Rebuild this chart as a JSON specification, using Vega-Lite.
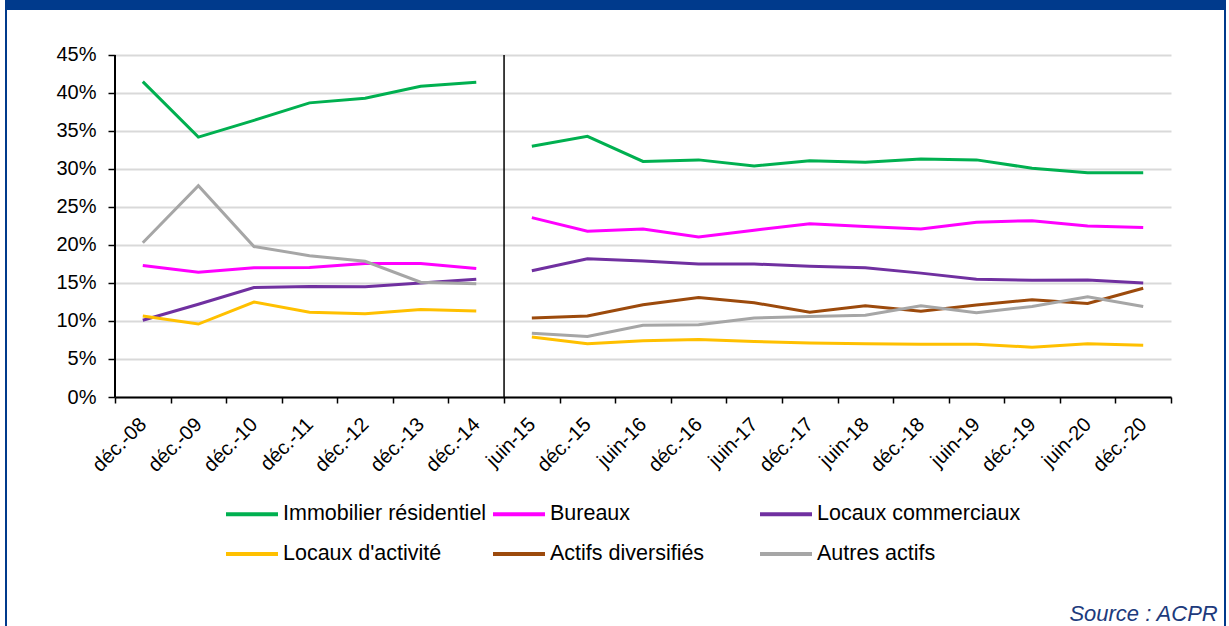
{
  "$schema": "https://vega.github.io/schema/vega-lite/v6.json",
  "padding": {"left": 5, "top": 0, "right": 3, "bottom": 0},
  "background": "white",
  "config": {
    "font": "Liberation Sans",
    "concat": {"spacing": 0},
    "view": {"stroke": null}
  },
  "bounds": "flush",
  "spacing": 0,
  "vconcat": [
    {
      "width": 1221,
      "height": 10,
      "view": {"fill": "#003a8c", "stroke": null},
      "data": {"values": []},
      "mark": "rect",
      "encoding": {}
    },
    {
      "bounds": "flush",
      "spacing": 0,
      "hconcat": [
        {
          "width": 2,
          "height": 616,
          "view": {"fill": "#003a8c", "stroke": null},
          "data": {"values": []},
          "mark": "rect",
          "encoding": {}
        },
        {
          "width": 108,
          "height": 1,
          "view": {"stroke": null},
          "data": {"values": []},
          "mark": "rect",
          "encoding": {}
        },
        {
          "width": 1056,
          "height": 387,
          "title": {
            "text": "Source : ACPR",
            "orient": "bottom",
            "anchor": "end",
            "fontSize": 22,
            "fontStyle": "italic",
            "fontWeight": "normal",
            "color": "#203a7c",
            "offset": 129,
            "dx": 46
          },
          "data": {
            "values": [
              {"c": "déc.-08", "s": "Immobilier résidentiel", "p": 1, "v": 0.415},
              {"c": "déc.-09", "s": "Immobilier résidentiel", "p": 1, "v": 0.342},
              {"c": "déc.-10", "s": "Immobilier résidentiel", "p": 1, "v": 0.364},
              {"c": "déc.-11", "s": "Immobilier résidentiel", "p": 1, "v": 0.387},
              {"c": "déc.-12", "s": "Immobilier résidentiel", "p": 1, "v": 0.393},
              {"c": "déc.-13", "s": "Immobilier résidentiel", "p": 1, "v": 0.409},
              {"c": "déc.-14", "s": "Immobilier résidentiel", "p": 1, "v": 0.414},
              {"c": "juin-15", "s": "Immobilier résidentiel", "p": 2, "v": 0.330},
              {"c": "déc.-15", "s": "Immobilier résidentiel", "p": 2, "v": 0.343},
              {"c": "juin-16", "s": "Immobilier résidentiel", "p": 2, "v": 0.310},
              {"c": "déc.-16", "s": "Immobilier résidentiel", "p": 2, "v": 0.312},
              {"c": "juin-17", "s": "Immobilier résidentiel", "p": 2, "v": 0.304},
              {"c": "déc.-17", "s": "Immobilier résidentiel", "p": 2, "v": 0.311},
              {"c": "juin-18", "s": "Immobilier résidentiel", "p": 2, "v": 0.309},
              {"c": "déc.-18", "s": "Immobilier résidentiel", "p": 2, "v": 0.313},
              {"c": "juin-19", "s": "Immobilier résidentiel", "p": 2, "v": 0.312},
              {"c": "déc.-19", "s": "Immobilier résidentiel", "p": 2, "v": 0.301},
              {"c": "juin-20", "s": "Immobilier résidentiel", "p": 2, "v": 0.295},
              {"c": "déc.-20", "s": "Immobilier résidentiel", "p": 2, "v": 0.295},

              {"c": "déc.-08", "s": "Bureaux", "p": 1, "v": 0.173},
              {"c": "déc.-09", "s": "Bureaux", "p": 1, "v": 0.164},
              {"c": "déc.-10", "s": "Bureaux", "p": 1, "v": 0.170},
              {"c": "déc.-11", "s": "Bureaux", "p": 1, "v": 0.1705},
              {"c": "déc.-12", "s": "Bureaux", "p": 1, "v": 0.1755},
              {"c": "déc.-13", "s": "Bureaux", "p": 1, "v": 0.1755},
              {"c": "déc.-14", "s": "Bureaux", "p": 1, "v": 0.169},
              {"c": "juin-15", "s": "Bureaux", "p": 2, "v": 0.236},
              {"c": "déc.-15", "s": "Bureaux", "p": 2, "v": 0.218},
              {"c": "juin-16", "s": "Bureaux", "p": 2, "v": 0.221},
              {"c": "déc.-16", "s": "Bureaux", "p": 2, "v": 0.2105},
              {"c": "juin-17", "s": "Bureaux", "p": 2, "v": 0.2195},
              {"c": "déc.-17", "s": "Bureaux", "p": 2, "v": 0.228},
              {"c": "juin-18", "s": "Bureaux", "p": 2, "v": 0.2245},
              {"c": "déc.-18", "s": "Bureaux", "p": 2, "v": 0.221},
              {"c": "juin-19", "s": "Bureaux", "p": 2, "v": 0.230},
              {"c": "déc.-19", "s": "Bureaux", "p": 2, "v": 0.232},
              {"c": "juin-20", "s": "Bureaux", "p": 2, "v": 0.225},
              {"c": "déc.-20", "s": "Bureaux", "p": 2, "v": 0.223},

              {"c": "déc.-08", "s": "Locaux commerciaux", "p": 1, "v": 0.101},
              {"c": "déc.-09", "s": "Locaux commerciaux", "p": 1, "v": 0.122},
              {"c": "déc.-10", "s": "Locaux commerciaux", "p": 1, "v": 0.144},
              {"c": "déc.-11", "s": "Locaux commerciaux", "p": 1, "v": 0.1455},
              {"c": "déc.-12", "s": "Locaux commerciaux", "p": 1, "v": 0.145},
              {"c": "déc.-13", "s": "Locaux commerciaux", "p": 1, "v": 0.150},
              {"c": "déc.-14", "s": "Locaux commerciaux", "p": 1, "v": 0.155},
              {"c": "juin-15", "s": "Locaux commerciaux", "p": 2, "v": 0.166},
              {"c": "déc.-15", "s": "Locaux commerciaux", "p": 2, "v": 0.182},
              {"c": "juin-16", "s": "Locaux commerciaux", "p": 2, "v": 0.179},
              {"c": "déc.-16", "s": "Locaux commerciaux", "p": 2, "v": 0.175},
              {"c": "juin-17", "s": "Locaux commerciaux", "p": 2, "v": 0.175},
              {"c": "déc.-17", "s": "Locaux commerciaux", "p": 2, "v": 0.172},
              {"c": "juin-18", "s": "Locaux commerciaux", "p": 2, "v": 0.170},
              {"c": "déc.-18", "s": "Locaux commerciaux", "p": 2, "v": 0.163},
              {"c": "juin-19", "s": "Locaux commerciaux", "p": 2, "v": 0.155},
              {"c": "déc.-19", "s": "Locaux commerciaux", "p": 2, "v": 0.1535},
              {"c": "juin-20", "s": "Locaux commerciaux", "p": 2, "v": 0.154},
              {"c": "déc.-20", "s": "Locaux commerciaux", "p": 2, "v": 0.150},

              {"c": "déc.-08", "s": "Locaux d'activité", "p": 1, "v": 0.1065},
              {"c": "déc.-09", "s": "Locaux d'activité", "p": 1, "v": 0.096},
              {"c": "déc.-10", "s": "Locaux d'activité", "p": 1, "v": 0.125},
              {"c": "déc.-11", "s": "Locaux d'activité", "p": 1, "v": 0.1115},
              {"c": "déc.-12", "s": "Locaux d'activité", "p": 1, "v": 0.1095},
              {"c": "déc.-13", "s": "Locaux d'activité", "p": 1, "v": 0.115},
              {"c": "déc.-14", "s": "Locaux d'activité", "p": 1, "v": 0.113},
              {"c": "juin-15", "s": "Locaux d'activité", "p": 2, "v": 0.079},
              {"c": "déc.-15", "s": "Locaux d'activité", "p": 2, "v": 0.070},
              {"c": "juin-16", "s": "Locaux d'activité", "p": 2, "v": 0.074},
              {"c": "déc.-16", "s": "Locaux d'activité", "p": 2, "v": 0.0755},
              {"c": "juin-17", "s": "Locaux d'activité", "p": 2, "v": 0.073},
              {"c": "déc.-17", "s": "Locaux d'activité", "p": 2, "v": 0.071},
              {"c": "juin-18", "s": "Locaux d'activité", "p": 2, "v": 0.070},
              {"c": "déc.-18", "s": "Locaux d'activité", "p": 2, "v": 0.0695},
              {"c": "juin-19", "s": "Locaux d'activité", "p": 2, "v": 0.0695},
              {"c": "déc.-19", "s": "Locaux d'activité", "p": 2, "v": 0.0655},
              {"c": "juin-20", "s": "Locaux d'activité", "p": 2, "v": 0.070},
              {"c": "déc.-20", "s": "Locaux d'activité", "p": 2, "v": 0.068},

              {"c": "juin-15", "s": "Actifs diversifiés", "p": 2, "v": 0.104},
              {"c": "déc.-15", "s": "Actifs diversifiés", "p": 2, "v": 0.1065},
              {"c": "juin-16", "s": "Actifs diversifiés", "p": 2, "v": 0.1215},
              {"c": "déc.-16", "s": "Actifs diversifiés", "p": 2, "v": 0.131},
              {"c": "juin-17", "s": "Actifs diversifiés", "p": 2, "v": 0.124},
              {"c": "déc.-17", "s": "Actifs diversifiés", "p": 2, "v": 0.1115},
              {"c": "juin-18", "s": "Actifs diversifiés", "p": 2, "v": 0.120},
              {"c": "déc.-18", "s": "Actifs diversifiés", "p": 2, "v": 0.113},
              {"c": "juin-19", "s": "Actifs diversifiés", "p": 2, "v": 0.121},
              {"c": "déc.-19", "s": "Actifs diversifiés", "p": 2, "v": 0.128},
              {"c": "juin-20", "s": "Actifs diversifiés", "p": 2, "v": 0.123},
              {"c": "déc.-20", "s": "Actifs diversifiés", "p": 2, "v": 0.143},

              {"c": "déc.-08", "s": "Autres actifs", "p": 1, "v": 0.203},
              {"c": "déc.-09", "s": "Autres actifs", "p": 1, "v": 0.278},
              {"c": "déc.-10", "s": "Autres actifs", "p": 1, "v": 0.198},
              {"c": "déc.-11", "s": "Autres actifs", "p": 1, "v": 0.186},
              {"c": "déc.-12", "s": "Autres actifs", "p": 1, "v": 0.1785},
              {"c": "déc.-13", "s": "Autres actifs", "p": 1, "v": 0.151},
              {"c": "déc.-14", "s": "Autres actifs", "p": 1, "v": 0.149},
              {"c": "juin-15", "s": "Autres actifs", "p": 2, "v": 0.084},
              {"c": "déc.-15", "s": "Autres actifs", "p": 2, "v": 0.0795},
              {"c": "juin-16", "s": "Autres actifs", "p": 2, "v": 0.0945},
              {"c": "déc.-16", "s": "Autres actifs", "p": 2, "v": 0.095},
              {"c": "juin-17", "s": "Autres actifs", "p": 2, "v": 0.104},
              {"c": "déc.-17", "s": "Autres actifs", "p": 2, "v": 0.106},
              {"c": "juin-18", "s": "Autres actifs", "p": 2, "v": 0.1075},
              {"c": "déc.-18", "s": "Autres actifs", "p": 2, "v": 0.120},
              {"c": "juin-19", "s": "Autres actifs", "p": 2, "v": 0.111},
              {"c": "déc.-19", "s": "Autres actifs", "p": 2, "v": 0.119},
              {"c": "juin-20", "s": "Autres actifs", "p": 2, "v": 0.132},
              {"c": "déc.-20", "s": "Autres actifs", "p": 2, "v": 0.119}
            ]
          },
          "layer": [
            {
              "mark": {"type": "line", "strokeWidth": 3},
              "encoding": {
                "x": {
                  "field": "c",
                  "type": "ordinal",
                  "scale": {
                    "type": "band",
                    "domain": ["déc.-08","déc.-09","déc.-10","déc.-11","déc.-12","déc.-13","déc.-14","juin-15","déc.-15","juin-16","déc.-16","juin-17","déc.-17","juin-18","déc.-18","juin-19","déc.-19","juin-20","déc.-20"],
                    "paddingInner": 0,
                    "paddingOuter": 0
                  },
                  "axis": {
                    "title": null,
                    "labelAngle": -45,
                    "labelAlign": "right",
                    "labelBaseline": "middle",
                    "labelFontSize": 20,
                    "labelColor": "#000000",
                    "labelPadding": 18,
                    "tickBand": "extent",
                    "tickColor": "#000000",
                    "tickSize": 6,
                    "tickWidth": 1.5,
                    "domainColor": "#000000",
                    "domainWidth": 2,
                    "grid": false
                  }
                },
                "y": {
                  "field": "v",
                  "type": "quantitative",
                  "scale": {"domain": [0, 0.50921], "nice": false, "zero": true},
                  "axis": {
                    "title": null,
                    "values": [0, 0.05, 0.1, 0.15, 0.2, 0.25, 0.3, 0.35, 0.4, 0.45],
                    "format": ".0%",
                    "labelFontSize": 20,
                    "labelColor": "#000000",
                    "labelPadding": 12,
                    "tickColor": "#000000",
                    "tickSize": 7,
                    "tickWidth": 1.5,
                    "domain": false,
                    "gridColor": "#d9d9d9",
                    "gridWidth": 2
                  }
                },
                "color": {
                  "field": "s",
                  "type": "nominal",
                  "scale": {
                    "domain": ["Immobilier résidentiel", "Bureaux", "Locaux commerciaux", "Locaux d'activité", "Actifs diversifiés", "Autres actifs"],
                    "range": ["#00b050", "#ff00ff", "#7030a0", "#ffc000", "#9c4a0c", "#a6a6a6"]
                  },
                  "legend": {
                    "title": null,
                    "orient": "none",
                    "legendX": 219,
                    "legendY": 486,
                    "direction": "horizontal",
                    "columns": 3,
                    "gridAlign": "all",
                    "columnPadding": -2,
                    "rowPadding": 1,
                    "symbolType": "stroke",
                    "symbolSize": 2704,
                    "symbolStrokeWidth": 4,
                    "labelFontSize": 21.5,
                    "labelColor": "#000000",
                    "labelOffset": 3,
                    "labelLimit": 400
                  }
                },
                "detail": {"field": "p", "type": "nominal"}
              }
            },
            {
              "data": {"values": [{"c": "déc.-08"}]},
              "mark": {"type": "rule", "color": "#000000", "strokeWidth": 2},
              "encoding": {
                "x": {"field": "c", "type": "ordinal", "bandPosition": 0},
                "y": {"datum": 0},
                "y2": {"datum": 0.45}
              }
            },
            {
              "data": {"values": [{"c": "juin-15"}]},
              "mark": {"type": "rule", "color": "#000000", "strokeWidth": 1.5},
              "encoding": {
                "x": {"field": "c", "type": "ordinal", "bandPosition": 0},
                "y": {"datum": 0},
                "y2": {"datum": 0.45}
              }
            }
          ]
        },
        {
          "width": 53,
          "height": 1,
          "view": {"stroke": null},
          "data": {"values": []},
          "mark": "rect",
          "encoding": {}
        },
        {
          "width": 2,
          "height": 616,
          "view": {"fill": "#003a8c", "stroke": null},
          "data": {"values": []},
          "mark": "rect",
          "encoding": {}
        }
      ]
    }
  ]
}
